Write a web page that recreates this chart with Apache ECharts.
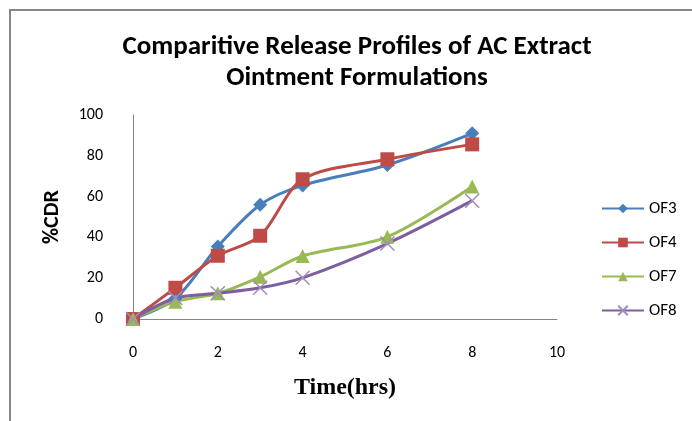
<!DOCTYPE html>
<html>
<head>
<meta charset="utf-8">
<script src="https://cdn.jsdelivr.net/npm/echarts@6/dist/echarts.min.js"></script>
<style>
  html, body { margin: 0; padding: 0; background: #fff; }
  .frame {
    position: absolute; left: 9px; top: 9px; width: 683px; height: 412px;
    border-left: 2px solid #878787; border-top: 2px solid #878787;
  }
  #releaseChart { position: absolute; left: 0; top: 0; width: 692px; height: 421px; }
</style>
</head>
<body>
<div class="frame"></div>
<div id="releaseChart"></div>
<script>
// time points (hrs)
const timeList = [0, 1, 2, 3, 4, 6, 8]
// %CDR per formulation
const of3List = [0, 10, 35.5, 56, 65.5, 75.5, 91]
const of4List = [0, 15.3, 31, 40.8, 68.5, 78.3, 85.6]
const of7List = [0, 8.5, 12.6, 20.7, 30.9, 40.3, 65]
const of8List = [0, 10.3, 12.6, 15.3, 20.2, 37, 58]
const seriesNames = ['OF3', 'OF4', 'OF7', 'OF8']

const chart = echarts.init(document.getElementById('releaseChart'))

function pairs(list) {
  return timeList.map((t, i) => [t, list[i]])
}

const labelFont = 'Calibri, Carlito, "Open Sans", "DejaVu Sans", sans-serif'

let option = {
  title: {
    text: 'Comparitive Release Profiles of AC Extract\nOintment Formulations',
    left: 352,
    top: 27,
    textAlign: 'center',
    textStyle: {
      fontFamily: labelFont,
      fontWeight: 'bold',
      fontSize: 27,
      lineHeight: 31,
      color: '#000'
    }
  },
  legend: {
    orient: 'vertical',
    left: 601,
    top: 200,
    padding: 0,
    itemWidth: 42,
    itemHeight: 12,
    itemGap: 17,
    textStyle: { fontFamily: labelFont, fontSize: 17, color: '#000' },
    data: seriesNames
  },
  grid: {
    left: 133,
    right: 135,
    top: 115,
    bottom: 102
  },
  xAxis: {
    type: 'value',
    min: 0,
    max: 10,
    interval: 2,
    name: 'Time(hrs)',
    nameLocation: 'middle',
    nameGap: 57,
    nameTextStyle: {
      fontFamily: '"Liberation Serif", "Times New Roman", serif',
      fontWeight: 'bold',
      fontSize: 24,
      color: '#000'
    },
    axisLine: { lineStyle: { color: '#868686', width: 1 } },
    axisTick: { show: false },
    splitLine: { show: false },
    axisLabel: { fontFamily: labelFont, fontSize: 16, color: '#000', margin: 26 }
  },
  yAxis: {
    type: 'value',
    min: 0,
    max: 100,
    interval: 20,
    name: '%CDR',
    nameLocation: 'middle',
    nameGap: 70,
    nameTextStyle: {
      fontFamily: labelFont,
      fontWeight: 'bold',
      fontSize: 22,
      color: '#000'
    },
    axisLine: { show: true, lineStyle: { color: '#868686', width: 1 } },
    axisTick: { show: false },
    splitLine: { show: false },
    axisLabel: { fontFamily: labelFont, fontSize: 16, color: '#000', margin: 30 }
  },
  series: [
    {
      name: 'OF3',
      type: 'line',
      smooth: 0.3,
      symbol: 'diamond',
      symbolSize: 14,
      lineStyle: { color: '#4A7EBB', width: 3 },
      itemStyle: { color: '#4A7EBB' },
      data: pairs(of3List)
    },
    {
      name: 'OF4',
      type: 'line',
      smooth: 0.3,
      symbol: 'rect',
      symbolSize: 14,
      lineStyle: { color: '#BE4B48', width: 3 },
      itemStyle: { color: '#BE4B48' },
      data: pairs(of4List)
    },
    {
      name: 'OF7',
      type: 'line',
      smooth: 0.3,
      symbol: 'triangle',
      symbolSize: 14,
      lineStyle: { color: '#98B954', width: 3 },
      itemStyle: { color: '#98B954' },
      data: pairs(of7List)
    },
    {
      name: 'OF8',
      type: 'line',
      smooth: 0.3,
      symbol: 'path://M0,0 L10,10 M10,0 L0,10',
      symbolSize: 14,
      lineStyle: { color: '#7D5FA0', width: 3 },
      itemStyle: { color: 'none', borderColor: '#A08CBE', borderWidth: 1.5 },
      data: pairs(of8List)
    }
  ]
}

option && chart.setOption(option)
window.addEventListener('resize', function() {
  chart.resize()
})
</script>
</body>
</html>
